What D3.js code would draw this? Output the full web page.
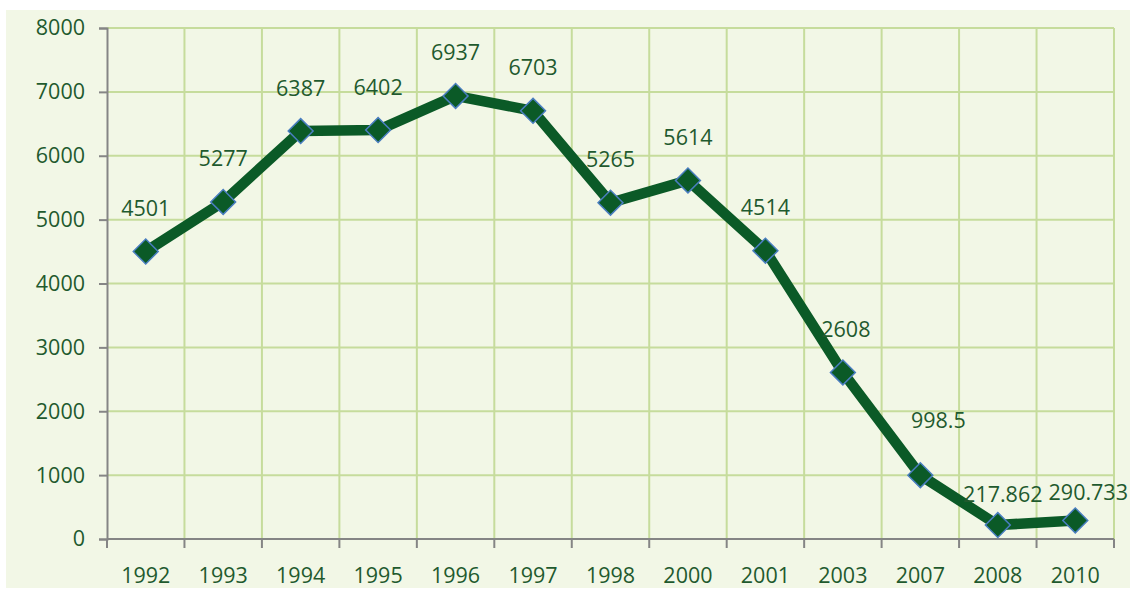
<!DOCTYPE html>
<html>
<head>
<meta charset="utf-8">
<script src="https://cdn.jsdelivr.net/npm/d3@7"></script>
<style>
  body { margin: 0; background: #ffffff; }
  svg { display: block; }
</style>
</head>
<body>
<svg width="1130" height="590"></svg>
<script>
// ---- data
const years = ['1992', '1993', '1994', '1995', '1996', '1997', '1998', '2000', '2001', '2003', '2007', '2008', '2010'];
const values = [4501, 5277, 6387, 6402, 6937, 6703, 5265, 5614, 4514, 2608, 998.5, 217.862, 290.733];
const yTicks = [0, 1000, 2000, 3000, 4000, 5000, 6000, 7000, 8000];

// labels that Excel pushed aside a bit (dx, dy in px)
const labelNudge = { '2003': [3, 0], '2007': [18, -12], '2008': [5, 12], '2010': [13, 15] };

const margin = { left: 107, right: 16, top: 28, bottom: 51 };
const svg = d3.select('svg');
const width = 1130, height = 590;
const innerWidth = width - margin.left - margin.right;
const innerHeight = height - margin.top - margin.bottom;

const textColor = '#1f5a2e';
const font = '"Open Sans", "Noto Sans", sans-serif';
const fontSize = '21.5px';

// ---- panel background
svg.append('rect')
    .attr('x', 6).attr('y', 10)
    .attr('width', 1124).attr('height', 578)
    .attr('fill', '#f2f7e6');

const g = svg.append('g')
    .attr('transform', `translate(${margin.left}, ${margin.top})`);

// ---- scales
const x = d3.scaleBand().domain(years).range([0, innerWidth]).padding(0);
const y = d3.scaleLinear().domain([0, 8000]).range([innerHeight, 0]);

// ---- grid
g.append('g').selectAll('line')
    .data(yTicks.filter(d => d > 0))
    .join('line')
    .attr('x1', 0).attr('x2', innerWidth)
    .attr('y1', d => y(d)).attr('y2', d => y(d))
    .attr('stroke', '#c6dc9c').attr('stroke-width', 2);

g.append('g').selectAll('line')
    .data(years.slice(1).map(d => x(d)).concat([innerWidth]))
    .join('line')
    .attr('x1', d => d).attr('x2', d => d)
    .attr('y1', 0).attr('y2', innerHeight)
    .attr('stroke', '#c6dc9c').attr('stroke-width', 2);

// ---- axes
const yAxis = d3.axisLeft(y).tickValues(yTicks).tickSize(8).tickPadding(14).tickFormat(d3.format('d'));
const gy = g.append('g').call(yAxis);
gy.select('.domain').attr('stroke', '#858585').attr('stroke-width', 2);
gy.selectAll('.tick line').attr('stroke', '#858585').attr('stroke-width', 2);
gy.selectAll('.tick text')
    .attr('fill', textColor)
    .style('font-family', font)
    .style('font-size', fontSize);

const gx = g.append('g').attr('transform', `translate(0, ${innerHeight})`);
gx.append('line')
    .attr('x1', 0).attr('x2', innerWidth)
    .attr('stroke', '#858585').attr('stroke-width', 2);
gx.selectAll('line.tick')
    .data(years.map(d => x(d)).concat([innerWidth]))
    .join('line')
    .attr('class', 'tick')
    .attr('x1', d => d).attr('x2', d => d)
    .attr('y1', 0).attr('y2', 9)
    .attr('stroke', '#858585').attr('stroke-width', 2);
gx.selectAll('text')
    .data(years)
    .join('text')
    .attr('x', d => x(d) + x.bandwidth() / 2)
    .attr('y', 36)
    .attr('dy', '0.35em')
    .attr('text-anchor', 'middle')
    .attr('fill', textColor)
    .style('font-family', font)
    .style('font-size', fontSize)
    .text(d => d);

// ---- line + markers
const pts = years.map((yr, i) => ({ yr, v: values[i] }));
const cx = d => x(d.yr) + x.bandwidth() / 2;

g.append('path')
    .datum(pts)
    .attr('d', d3.line().x(cx).y(d => y(d.v)))
    .attr('fill', 'none')
    .attr('stroke', '#0b5a27')
    .attr('stroke-width', 10.5)
    .attr('stroke-linejoin', 'round');

const diamond = d3.symbol().type(d3.symbolSquare).size(310);
g.append('g').selectAll('path')
    .data(pts)
    .join('path')
    .attr('d', diamond)
    .attr('transform', d => `translate(${cx(d)}, ${y(d.v)}) rotate(45)`)
    .attr('fill', '#0b5a27')
    .attr('stroke', '#4a7ec0')
    .attr('stroke-width', 1.5);

// ---- data labels
g.append('g').selectAll('text')
    .data(pts)
    .join('text')
    .attr('x', d => cx(d) + (labelNudge[d.yr] ? labelNudge[d.yr][0] : 0))
    .attr('y', d => y(d.v) - 43 + (labelNudge[d.yr] ? labelNudge[d.yr][1] : 0))
    .attr('dy', '0.35em')
    .attr('text-anchor', 'middle')
    .attr('fill', textColor)
    .style('font-family', font)
    .style('font-size', fontSize)
    .text(d => String(d.v));
</script>
</body>
</html>
